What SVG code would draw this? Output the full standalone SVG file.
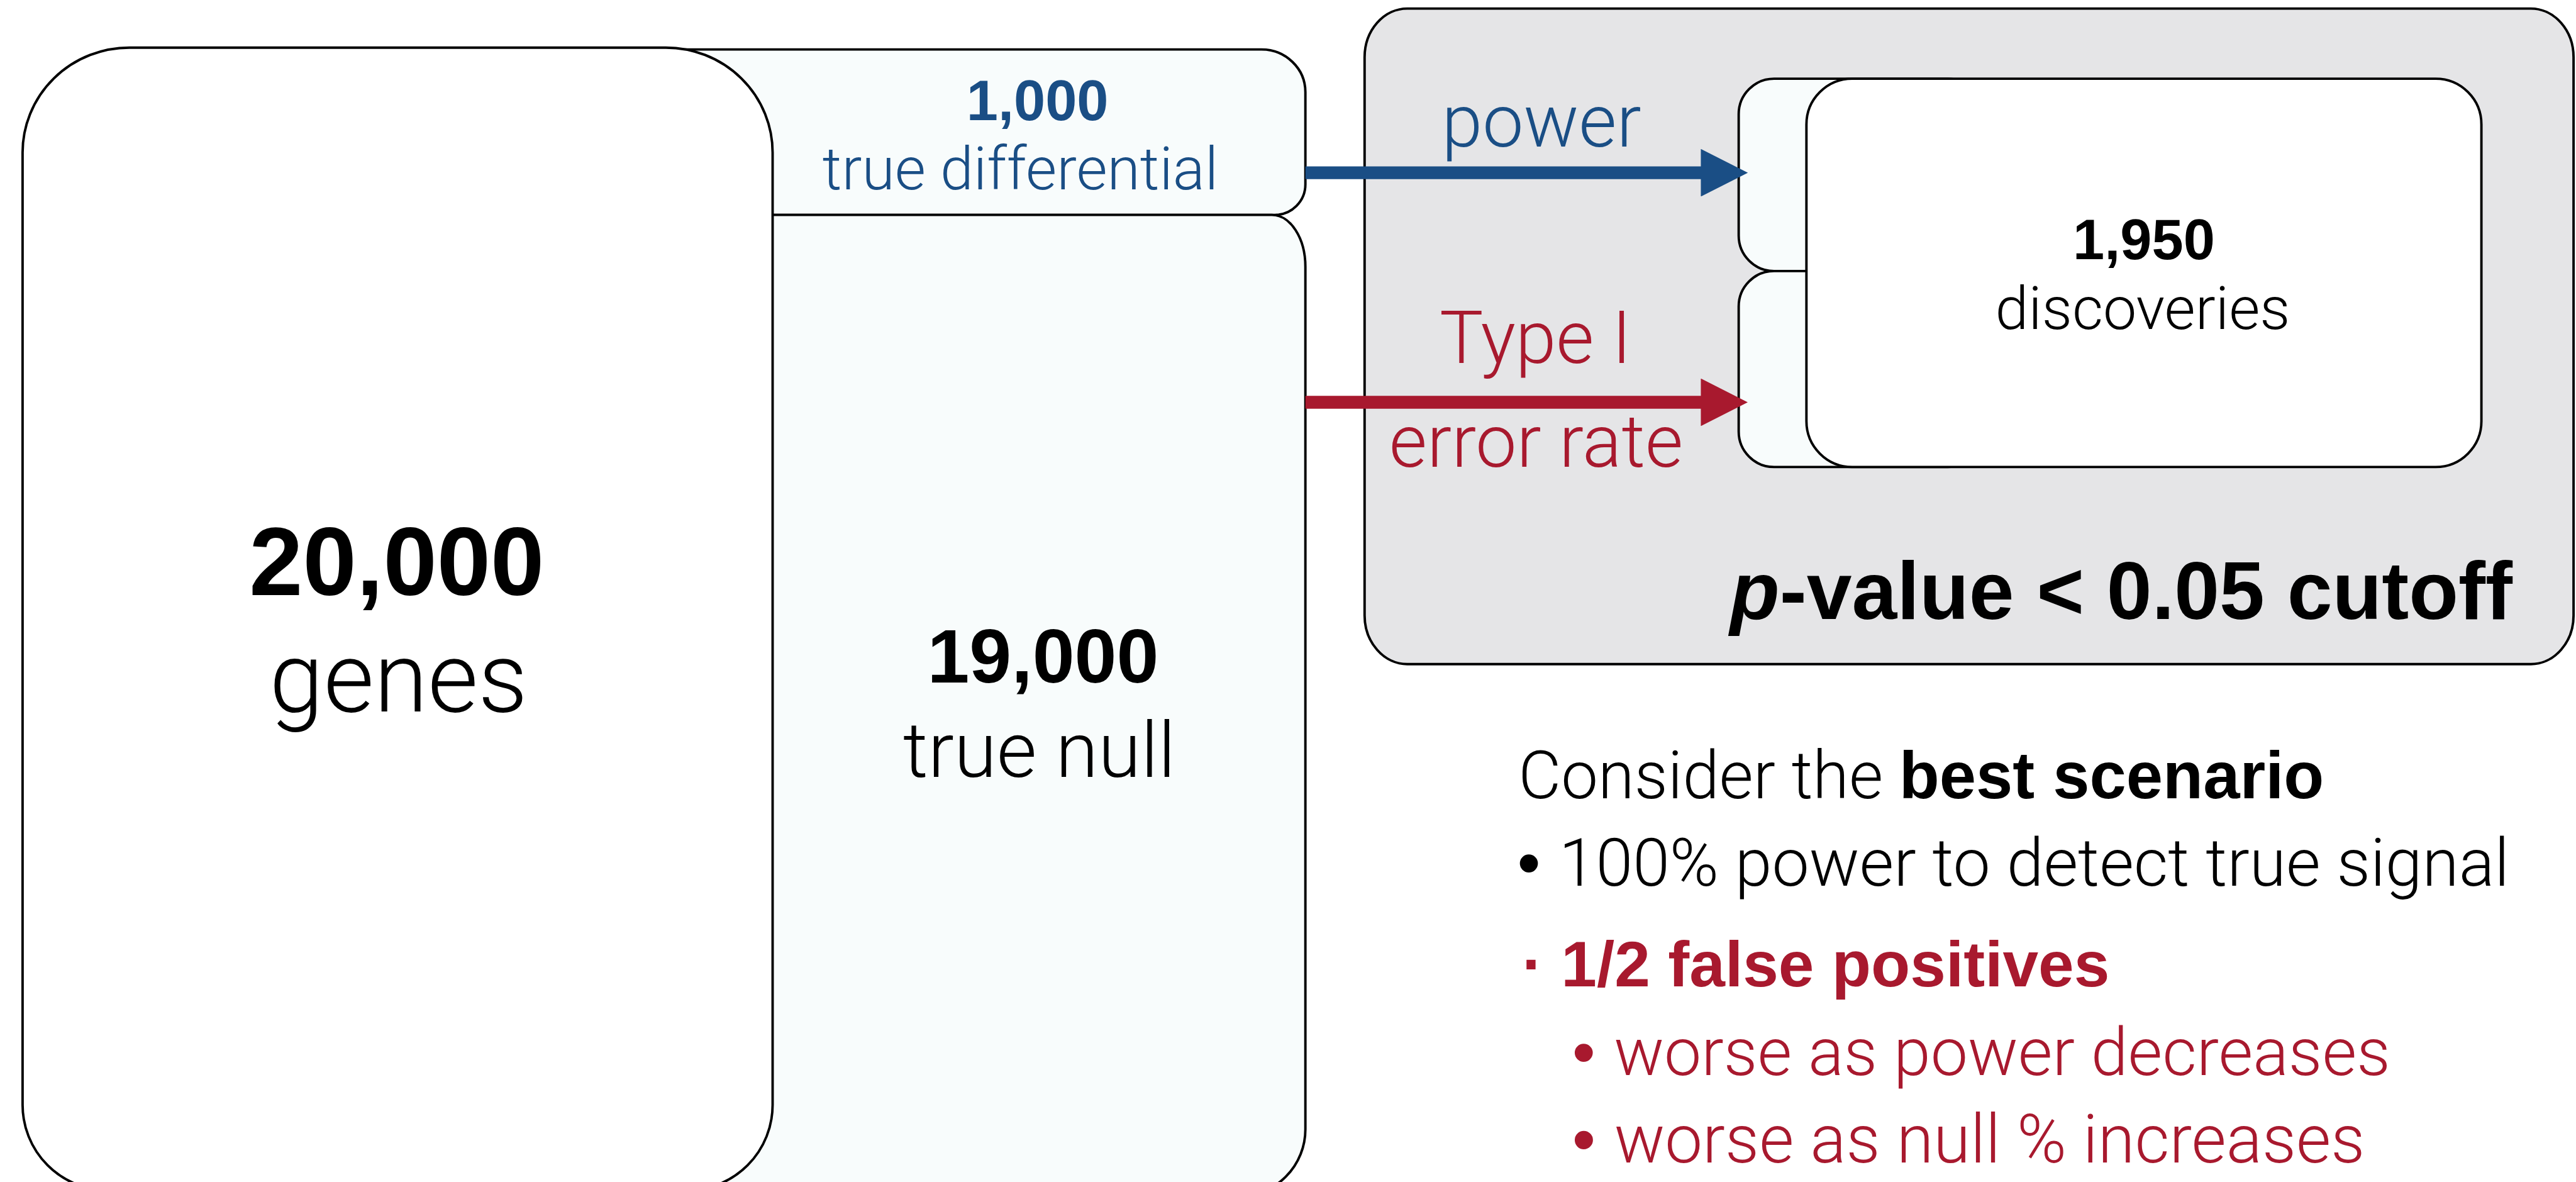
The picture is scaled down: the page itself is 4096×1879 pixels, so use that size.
<svg xmlns="http://www.w3.org/2000/svg" width="4096" height="1879" viewBox="0 0 4096 1879">
<defs>
<style>
.t{font-family:"Liberation Sans",Arial,Helvetica,sans-serif;font-weight:normal}
.l{font-family:Roboto,"Liberation Sans",Arial,sans-serif;font-weight:300}
.b{font-family:"Liberation Sans",Arial,Helvetica,sans-serif;font-weight:bold}
.box{stroke:#000;stroke-width:4}
.pale{fill:#f8fcfc}
.white{fill:#fff}
.blue{fill:#1a4e85}
.red{fill:#a8192e}
.blk{fill:#000}
.mid{text-anchor:middle}
</style>
<marker id="ahBlue" viewBox="0 0 77 78" refX="30" refY="39" markerWidth="77" markerHeight="78" markerUnits="userSpaceOnUse" orient="auto"><path d="M0,0 L77,39 L0,78 Z" fill="#1a4e85"/></marker>
<marker id="ahRed" viewBox="0 0 77 78" refX="30" refY="39" markerWidth="77" markerHeight="78" markerUnits="userSpaceOnUse" orient="auto"><path d="M0,0 L77,39 L0,78 Z" fill="#a8192e"/></marker>
</defs>
<rect width="4096" height="1879" fill="#fff"/>
<g transform="scale(0.970386)">
<g id="cutoff">
<rect class="box" x="2236" y="14" width="1981" height="1074" rx="70" ry="80" fill="#e5e5e7"/>
<text class="b blk" x="4117" y="1014" font-size="133" text-anchor="end"><tspan font-style="italic">p</tspan>-value &lt; 0.05 cutoff</text>
</g>
<g id="truediff">
<path class="box pale" d="M1100,81 H2067 A72,70 0 0 1 2139,151 V302 A50,50 0 0 1 2089,352 H1100 Z"/>
<text class="b blue mid" x="1700" y="197" font-size="93">1,000</text>
<text class="l blue mid" x="1672" y="310" font-size="98">true differential</text>
</g>
<g id="truenull">
<path class="box pale" d="M1100,352 H2084 A55,85 0 0 1 2139,437 V1850 A110,110 0 0 1 2029,1960 H1100 Z"/>
<text class="b blk mid" x="1709" y="1118" font-size="124">19,000</text>
<text class="l blk mid" x="1703" y="1273" font-size="127">true null</text>
</g>
<g id="genes">
<path class="box white" d="M212,78 H1091 A175,172 0 0 1 1266,250 V1810 A140,140 0 0 1 1126,1950 H177 A140,140 0 0 1 37,1810 V250 A175,172 0 0 1 212,78 Z"/>
<text class="b blk mid" x="650" y="975" font-size="158">20,000</text>
<text class="l blk mid" x="653" y="1166" font-size="160">genes</text>
</g>
<g id="power-slot">
<rect class="box pale" x="2849" y="129" width="400" height="315" rx="58"/>
</g>
<g id="typeI-slot">
<rect class="box pale" x="2849" y="444" width="400" height="321" rx="58"/>
</g>
<g id="discoveries">
<rect class="box white" x="2960" y="129" width="1106" height="636" rx="75"/>
<text class="b blk mid" x="3513" y="425" font-size="93">1,950</text>
<text class="l blk mid" x="3511" y="539" font-size="98">discoveries</text>
</g>
<g id="connectors">
<line x1="2139" y1="283" x2="2817" y2="283" stroke="#1a4e85" stroke-width="21" marker-end="url(#ahBlue)"/>
<line x1="2139" y1="659" x2="2817" y2="659" stroke="#a8192e" stroke-width="21" marker-end="url(#ahRed)"/>
<text class="l blue mid" x="2526" y="240" font-size="120">power</text>
<text class="l red mid" x="2516" y="595" font-size="120">Type I</text>
<text class="l red mid" x="2517" y="765" font-size="120">error rate</text>
</g>
<g id="notes">
<text class="l blk" x="2488" y="1308" font-size="108">Consider the <tspan class="b">best scenario</tspan></text>
<text class="l blk" x="2486" y="1451" font-size="109"><tspan class="t">• </tspan>100% power to detect true signal</text>
<text class="b red" x="2494" y="1616" font-size="105">· 1/2 false positives</text>
<text class="l red" x="2576" y="1761" font-size="109"><tspan class="t">• </tspan>worse as power decreases</text>
<text class="l red" x="2576" y="1904" font-size="110"><tspan class="t">• </tspan>worse as null % increases</text>
</g>
</g>
</svg>
